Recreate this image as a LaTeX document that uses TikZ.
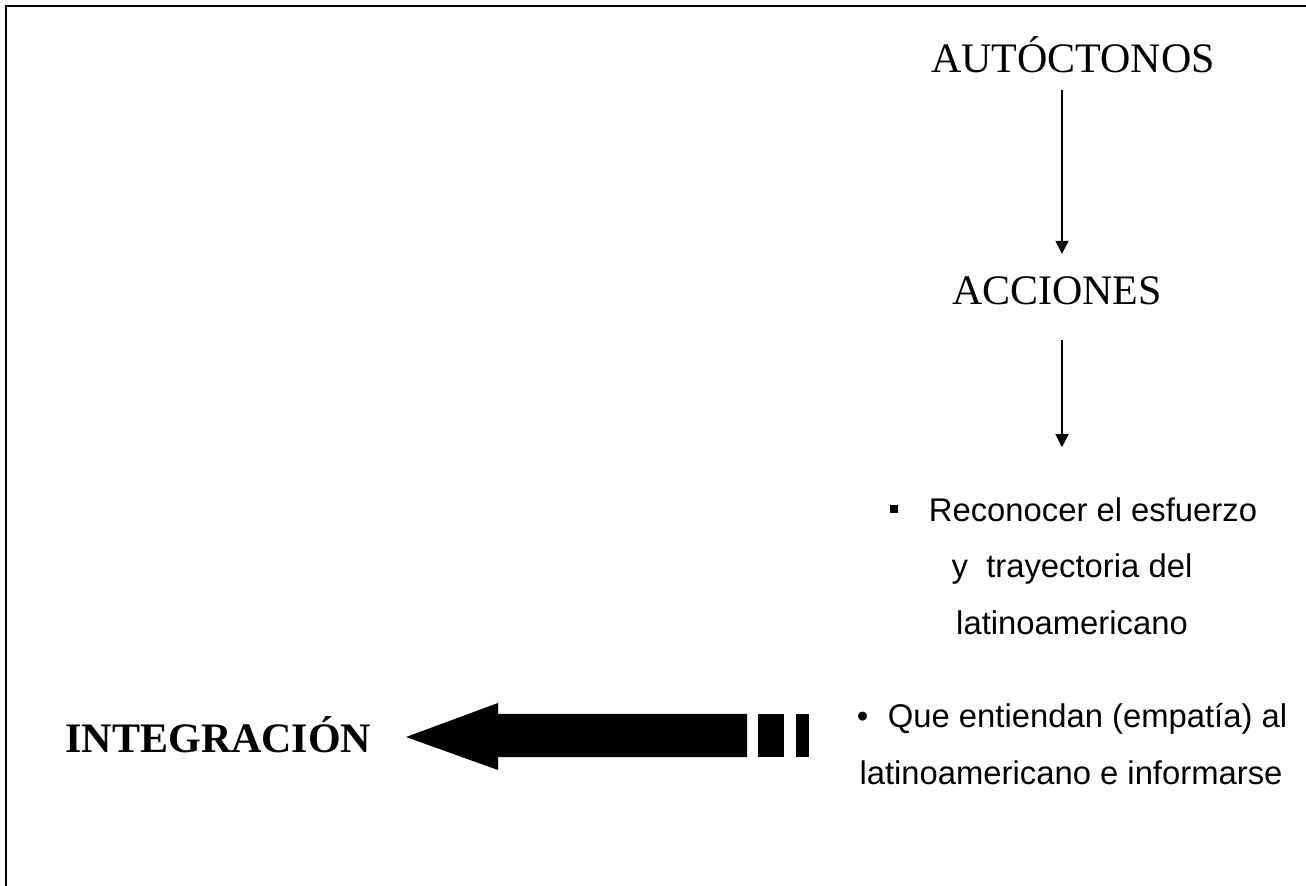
\documentclass[tikz,border=0pt]{standalone}
\usepackage{fontspec}
\setmainfont{Liberation Serif}
\newfontfamily\arialf{Liberation Sans}
\usetikzlibrary{arrows.meta}
\tikzset{
  serifbig/.style={inner sep=0pt, font=\fontsize{21pt}{25pt}\selectfont, text height=13.9pt, text depth=0pt, anchor=base},
  serifbold/.style={inner sep=0pt, font=\fontsize{21pt}{25pt}\selectfont\bfseries, text height=14.2pt, text depth=0pt, anchor=base},
  sansline/.style={inner sep=0pt, font=\fontsize{16.4pt}{20pt}\selectfont\arialf, text height=11.7pt, text depth=0pt, anchor=base},
  thinarrow/.style={line width=0.65pt, -{Triangle[width=6.5pt,length=6.5pt]}},
  frameline/.style={line width=1pt},
  bigarrow/.style={fill=black, draw=none}
}
\begin{document}
\begin{tikzpicture}[x=0.5pt,y=-0.5pt]
\useasboundingbox (0,0) rectangle (1306,886);
\draw[frameline] (6,886) -- (6,6) -- (1306,6);

\node[serifbig] (aut) at (1073,73) {AUTÓCTONOS};
\node[serifbig] (acc) at (1057,305) {ACCIONES};

\node[sansline] (rec1) at (1073.5,522) {\raisebox{4.5pt}{\rule{4pt}{4pt}}\hspace{15.5pt}Reconocer el esfuerzo};
\node[sansline] (rec2) at (1072,578) {y~~trayectoria del};
\node[sansline] (rec3) at (1072,635) {latinoamericano};

\node[sansline] (que1) at (1072,727) {•\hspace{9.75pt}Que entiendan (empatía) al};
\node[sansline] (que2) at (1071,784) {latinoamericano e informarse};

\node[serifbold] (integ) at (218.5,753) {INTEGRACIÓN};

\draw[thinarrow, shorten <=8.5pt, shorten >=11.5pt] ([xshift=-5.5pt]aut.south) -- ([xshift=2.5pt]acc.north);
\draw[thinarrow, shorten <=17.5pt, shorten >=25.5pt] ([xshift=2.5pt]acc.south) -- ([xshift=-5.75pt]rec1.north);

\fill[bigarrow] (406,737) -- (498,703) -- (498,714) -- (747,714) -- (747,757) -- (498,757) -- (498,770) -- cycle;
\fill[bigarrow] (758,714) rectangle (784,757);
\fill[bigarrow] (796,714) rectangle (809,757);
\end{tikzpicture}
\end{document}
